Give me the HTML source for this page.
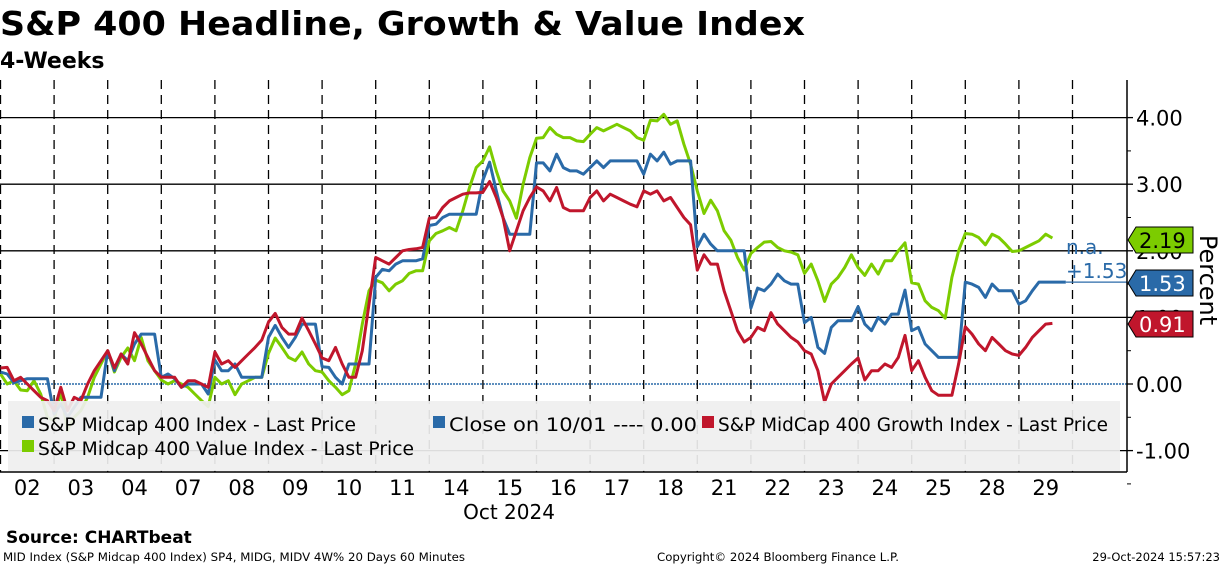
<!DOCTYPE html>
<html><head><meta charset="utf-8">
<style>
body{margin:0;background:#fff;}
svg{display:block;font-family:"DejaVu Sans","Liberation Sans",sans-serif;}
</style></head>
<body>
<svg id="chart" width="1224" height="566" viewBox="0 0 1224 566">
<rect width="1224" height="566" fill="#fff"/>
<text x="0" y="35" font-size="33" font-weight="bold" textLength="805" lengthAdjust="spacingAndGlyphs">S&amp;P 400 Headline, Growth &amp; Value Index</text>
<text x="0" y="68" font-size="22" font-weight="bold">4-Weeks</text>
<g id="grid"></g>
<g id="series"></g>
<g id="legend"></g>
<g id="axes"></g>
<text x="6" y="543" font-size="17" font-weight="bold">Source:  CHARTbeat</text>
<text x="3" y="561" font-size="11.5" textLength="462" lengthAdjust="spacingAndGlyphs">MID Index (S&amp;P Midcap 400 Index) SP4, MIDG, MIDV 4W% 20 Days 60 Minutes</text>
<text x="657" y="561" font-size="11.5" textLength="242" lengthAdjust="spacingAndGlyphs">Copyright© 2024 Bloomberg Finance L.P.</text>
<text x="1220" y="561" font-size="11.5" text-anchor="end">29-Oct-2024 15:57:23</text>
</svg>
<script>
const days = ["02","03","04","07","08","09","10","11","14","15","16","17","18","21","22","23","24","25","28","29"];
const yTicks = [4, 3, 2, 1, 0, -1];
const yTickLabels = ["4.00","3.00","2.00","1.00","0.00","-1.00"];
const midcap = [
0.18,0.15,0.02,0.05,0.08,0.08,0.08,0.08,
-0.45,-0.3,-0.5,-0.35,-0.2,-0.2,-0.2,-0.2,
0.5,0.2,0.45,0.35,0.6,0.75,0.75,0.75,
0.1,0.15,0.08,-0.05,0.0,0.0,0.0,-0.15,
0.36,0.2,0.2,0.3,0.1,0.1,0.1,0.1,
0.7,0.88,0.7,0.55,0.7,0.9,0.9,0.9,
0.26,0.25,0.1,0.0,0.3,0.3,0.3,0.3,
1.6,1.72,1.7,1.8,1.85,1.85,1.85,1.88,
2.38,2.4,2.5,2.55,2.55,2.55,2.55,2.55,
3.06,3.33,2.9,2.5,2.25,2.25,2.25,2.25,
3.32,3.32,3.2,3.45,3.25,3.2,3.2,3.15,
3.25,3.35,3.25,3.35,3.35,3.35,3.35,3.35,
3.15,3.45,3.35,3.48,3.3,3.35,3.35,3.35,
2.06,2.25,2.1,2.0,2.0,2.0,2.0,2.0,
1.14,1.44,1.4,1.5,1.65,1.55,1.5,1.5,
0.92,1.0,0.55,0.46,0.85,0.95,0.95,0.95,
1.16,0.9,0.8,1.0,0.9,1.05,1.05,1.41,
0.8,0.85,0.6,0.5,0.4,0.4,0.4,0.4,
1.53,1.5,1.45,1.3,1.5,1.4,1.4,1.4,
1.2,1.25,1.4,1.53,1.53,1.53,1.53,1.53];
const growth = [
0.24,0.25,0.05,0.1,0.0,-0.1,-0.2,-0.25,
-0.4,-0.05,-0.4,-0.2,-0.25,0.0,0.2,0.35,
0.5,0.24,0.45,0.3,0.77,0.6,0.4,0.2,
0.1,0.1,0.1,-0.05,0.05,0.05,0.0,-0.05,
0.48,0.3,0.35,0.25,0.35,0.45,0.55,0.66,
0.93,1.06,0.85,0.75,0.75,0.99,0.8,0.6,
0.39,0.35,0.55,0.3,0.1,0.1,0.5,1.2,
1.9,1.85,1.8,1.9,2.0,2.02,2.03,2.05,
2.49,2.5,2.65,2.75,2.8,2.85,2.87,2.87,
2.88,3.04,2.8,2.5,2.0,2.3,2.6,2.8,
2.96,2.9,2.75,2.95,2.65,2.6,2.6,2.6,
2.8,2.9,2.75,2.85,2.8,2.75,2.7,2.66,
2.9,2.85,2.9,2.75,2.8,2.65,2.5,2.39,
1.71,1.94,1.8,1.8,1.4,1.1,0.8,0.63,
0.7,0.85,0.8,1.07,0.9,0.8,0.7,0.63,
0.5,0.45,0.2,-0.27,0.0,0.1,0.2,0.3,
0.39,0.06,0.2,0.2,0.3,0.25,0.4,0.73,
0.2,0.35,0.1,-0.1,-0.17,-0.17,-0.17,0.3,
0.86,0.75,0.6,0.5,0.7,0.6,0.5,0.45,
0.43,0.55,0.7,0.8,0.9,0.91];
const value = [
0.15,0.0,0.05,-0.09,-0.1,0.05,-0.15,-0.5,
-0.55,-0.1,-0.7,-0.5,-0.4,-0.2,0.1,0.3,
0.5,0.18,0.4,0.54,0.35,0.7,0.35,0.2,
0.06,0.0,0.05,0.0,-0.05,-0.15,-0.25,-0.34,
0.1,0.0,0.05,-0.16,0.0,0.05,0.1,0.1,
0.46,0.69,0.55,0.4,0.35,0.48,0.3,0.2,
0.18,0.05,-0.05,-0.16,-0.1,0.3,0.9,1.4,
1.56,1.52,1.4,1.5,1.55,1.66,1.7,1.7,
2.15,2.26,2.3,2.35,2.3,2.6,2.95,3.25,
3.35,3.56,3.2,2.9,2.75,2.49,3.0,3.4,
3.69,3.7,3.85,3.75,3.7,3.7,3.65,3.64,
3.75,3.85,3.8,3.85,3.9,3.85,3.8,3.7,
3.66,3.96,3.95,4.05,3.9,3.95,3.6,3.3,
2.9,2.56,2.76,2.6,2.3,2.16,1.9,1.71,
1.96,2.05,2.13,2.14,2.05,2.0,1.98,1.94,
1.66,1.8,1.55,1.24,1.5,1.6,1.75,1.94,
1.75,1.63,1.8,1.65,1.85,1.85,2.0,2.12,
1.52,1.5,1.25,1.15,1.1,0.99,1.6,2.0,
2.26,2.25,2.2,2.09,2.25,2.2,2.1,1.99,
2.0,2.05,2.1,2.15,2.25,2.19];
const lastValues = [2.19, 1.53, 0.91];
const lastLabels = ["2.19","1.53","0.91"];

const NS = "http://www.w3.org/2000/svg";
const DAYW = 53.6, X0 = 0.5, PER = 8, AXX = 1127, PB = 472;
function xScale(i){ return X0 + Math.floor(i/PER)*DAYW + (i%PER)*DAYW/PER; }
function yScale(v){ return 384 - v*66.6; }
function mk(tag, attrs, parent){ const e=document.createElementNS(NS,tag); for(const k in attrs) e.setAttribute(k,attrs[k]); parent.appendChild(e); return e; }

const grid=document.getElementById('grid');
yTicks.forEach((t,i)=>{
  const g = mk('line',{x1:0,x2:AXX,y1:yScale(t),y2:yScale(t),stroke:t===0?'#2a6aa8':'#000','stroke-width':t===0?1.5:1.3,'stroke-dasharray':t===0?'2,1':'none'},grid);
  
  
});
for(let d=0; d<=days.length; d++){
  const x = X0 + d*DAYW;
  const l = mk('line',{x1:x,x2:x,y1:80,y2:PB,stroke:'#000','stroke-width':1.3,'stroke-dasharray':'9,6'},grid);
  
  
}

const ser=document.getElementById('series');
function drawLine(arr,color,name){
  const pts = arr.map((v,i)=>xScale(i).toFixed(1)+','+yScale(v).toFixed(1)).join(' ');
  const p = mk('polyline',{points:pts,fill:'none',stroke:color,'stroke-width':3,'stroke-linejoin':'round'},ser);
  
  
}
drawLine(value,'#7ccc00','value-index-line');
drawLine(midcap,'#2a6aa8','midcap-index-line');
drawLine(growth,'#c0162c','growth-index-line');
// last-value connector for midcap
const cx = xScale(midcap.length-1);
const conn = mk('line',{x1:cx,x2:AXX,y1:yScale(lastValues[1]),y2:yScale(lastValues[1]),stroke:'#2a6aa8','stroke-width':1.2},ser);



// legend
const lg=document.getElementById('legend');
const box = mk('rect',{x:8,y:401,width:1112,height:70,fill:'#efefef','fill-opacity':0.92},lg);


const legItems=[
 {x:22,y:416,c:'#2a6aa8',t:'S&P Midcap 400 Index - Last Price',w:318,n:'legend-entry-midcap'},
 {x:433,y:416,c:'#2a6aa8',t:'Close on 10/01 ---- 0.00',w:248,n:'legend-entry-close'},
 {x:702,y:416,c:'#c0162c',t:'S&P MidCap 400 Growth Index - Last Price',w:390,n:'legend-entry-growth'},
 {x:22,y:440,c:'#7ccc00',t:'S&P Midcap 400 Value Index - Last Price',w:376,n:'legend-entry-value'}];
legItems.forEach(it=>{
  const g=mk('g',{},lg);
  
  
  mk('rect',{x:it.x,y:it.y,width:12,height:12,fill:it.c},g);
  const t=mk('text',{x:it.x+16,y:it.y+15,'font-size':18.5,textLength:it.w,lengthAdjust:'spacingAndGlyphs',fill:'#000'},g);
  t.textContent=it.t;
});

// axes
const ax=document.getElementById('axes');
const yl=mk('line',{x1:AXX,x2:AXX,y1:80,y2:PB,stroke:'#000','stroke-width':1.5},ax);


const xl=mk('line',{x1:0,x2:AXX,y1:PB,y2:PB,stroke:'#000','stroke-width':1.5},ax);


yTicks.forEach((t,i)=>{
  mk('line',{x1:AXX,x2:AXX+6,y1:yScale(t),y2:yScale(t),stroke:'#000','stroke-width':1.3},ax);
  mk('line',{x1:AXX,x2:AXX+4,y1:yScale(t-0.5),y2:yScale(t-0.5),stroke:'#000','stroke-width':1},ax);
  const tx=mk('text',{x:1136,y:yScale(t)+8,'font-size':21},ax);
  
  
  tx.textContent=yTickLabels[i];
});
days.forEach((d,i)=>{
  const tx=mk('text',{x:X0+i*DAYW+DAYW/2,y:495,'font-size':21,'text-anchor':'middle'},ax);
  
  
  tx.textContent=d;
});
const mon=mk('text',{x:509,y:519,'font-size':20,'text-anchor':'middle'},ax);


mon.textContent='Oct 2024';
const yt=mk('text',{x:0,y:0,'font-size':24,'text-anchor':'middle',transform:'translate(1200,280) rotate(90)'},ax);


yt.textContent='Percent';

const tagColors=['#7ccc00','#2a6aa8','#c0162c'];
const tagText=['#000','#fff','#fff'];
const tagNames=['value-last-tag','midcap-last-tag','growth-last-tag'];
const tagY=[240,283,324];
const na=mk('text',{x:1066,y:254,'font-size':20,fill:'#2a6aa8'},ax);


na.textContent='n.a.';
const ch=mk('text',{x:1066,y:278,'font-size':20,fill:'#2a6aa8'},ax);


ch.textContent='+1.53';
lastValues.forEach((v,i)=>{
  const y=tagY[i];
  const g=mk('g',{},ax);
  
  
  mk('polygon',{points:`1128,${y} 1136,${y-13} 1193,${y-13} 1193,${y+13} 1136,${y+13}`,fill:tagColors[i],stroke:'#000','stroke-width':1},g);
  const t=mk('text',{x:1139,y:y+8,'font-size':21,fill:tagText[i]},g);
  t.textContent=lastLabels[i];
});
</script>
</body></html>
